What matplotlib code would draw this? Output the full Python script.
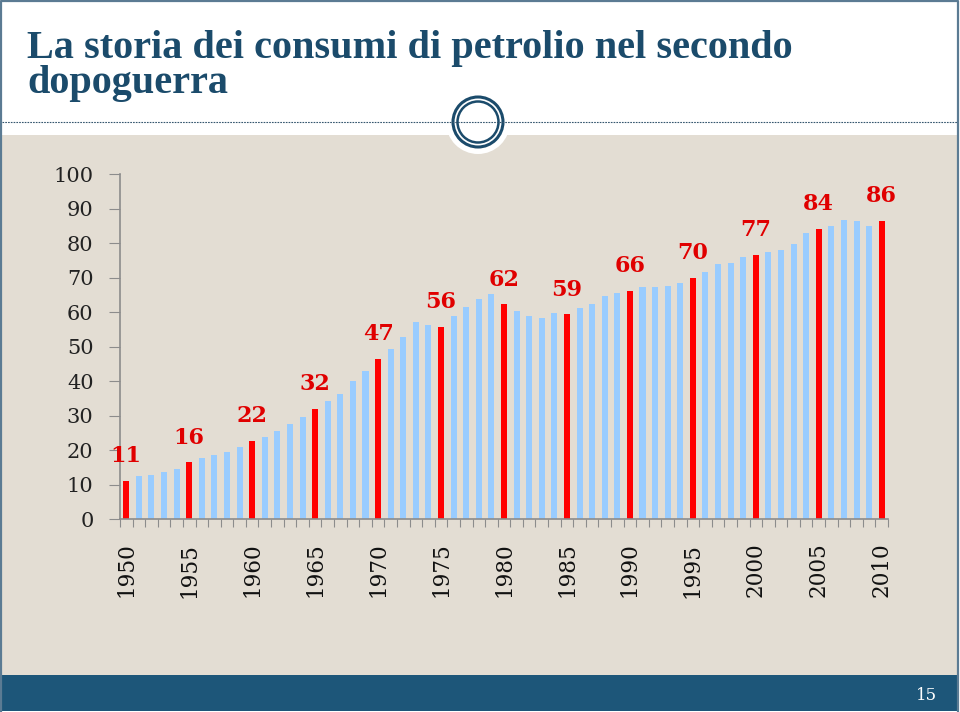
import numpy as np
import matplotlib.pyplot as plt
from matplotlib.patches import Rectangle, Circle

# consumo mondiale di petrolio
years = list(range(1950, 2011))
values = [11.0, 12.4, 12.9, 13.7, 14.6, 16.4, 17.7, 18.7, 19.4, 20.8,
          22.6, 23.9, 25.6, 27.5, 29.6, 31.9, 34.1, 36.3, 39.9, 43.0,
          46.5, 49.2, 52.8, 57.1, 56.3, 55.8, 58.9, 61.6, 63.7, 65.1,
          62.2, 60.2, 58.9, 58.4, 59.8, 59.3, 61.1, 62.4, 64.7, 65.5,
          66.0, 67.3, 67.3, 67.7, 68.5, 70.0, 71.7, 73.9, 74.3, 76.1,
          76.6, 77.5, 78.0, 79.7, 82.9, 84.1, 85.0, 86.7, 86.4, 85.0,
          86.3]
highlight_years = [1950, 1955, 1960, 1965, 1970, 1975, 1980, 1985, 1990,
                   1995, 2000, 2005, 2010]
highlight_labels = ['11', '16', '22', '32', '47', '56', '62', '59', '66',
                    '70', '77', '84', '86']

title_1 = 'La storia dei consumi di petrolio nel secondo'
title_2 = 'dopoguerra'
page_no = '15'

navy = '#1b4b6b'
beige = '#e3ddd3'

fig = plt.figure(figsize=(9.6, 7.12), dpi=100)
fig.patch.set_facecolor('white')

# slide background drawn in pixel coordinates
bg = fig.add_axes([0, 0, 1, 1], zorder=0)
bg.set_xlim(0, 960)
bg.set_ylim(712, 0)
bg.axis('off')
bg.add_patch(Rectangle((2, 135), 955, 540, facecolor=beige, edgecolor='none'))
bg.add_patch(Rectangle((2, 675), 955, 36, facecolor='#1d5679', edgecolor='none'))
bg.plot([2, 957], [122, 122], color='#35566e', lw=0.8, ls=(0, (1.5, 1)))
bg.add_patch(Circle((478, 122), 32, facecolor='white', edgecolor='none'))
bg.add_patch(Circle((478, 122), 25, facecolor='none', edgecolor=navy, lw=2.2))
bg.add_patch(Circle((478, 122), 20.5, facecolor='none', edgecolor=navy, lw=1.8))
# slide border
bg.plot([1, 1, 958, 958], [712, 1, 1, 712], color='#5b7b93', lw=1.6)
bg.text(27, 58, title_1, color=navy, fontsize=29, fontweight='bold',
        family='Liberation Serif', va='baseline', ha='left')
bg.text(27, 93, title_2, color=navy, fontsize=29, fontweight='bold',
        family='Liberation Serif', va='baseline', ha='left')
bg.text(927, 695, page_no, color='white', fontsize=12, family='DejaVu Serif',
        ha='center', va='center')

# chart
ax = fig.add_axes([0.125, 0.271, 0.8, 0.4845], zorder=1)
ax.patch.set_alpha(0)
x = np.arange(len(years))
colors = ['#ff0000' if y in highlight_years else '#99ccff' for y in years]
ax.bar(x, values, width=0.48, color=colors)

for yr, lab in zip(highlight_years, highlight_labels):
    i = years.index(yr)
    ax.annotate(lab, (x[i], values[i]), xytext=(0, 10), textcoords='offset points',
                ha='center', va='bottom', color='#e00000', fontsize=16,
                fontweight='bold', family='DejaVu Serif')

ax.set_xlim(-0.5, len(years) - 0.5)
ax.set_ylim(0, 100)
ax.set_yticks(range(0, 101, 10))
ax.tick_params(axis='y', direction='out', length=8, color='#8c8c8c', pad=11,
               labelsize=15, labelcolor='#222222')
for t in ax.get_yticklabels():
    t.set_family('DejaVu Serif')

# boundary ticks without labels, year labels every 5 bars
ax.set_xticks(np.arange(-0.5, len(years), 1.0))
ax.set_xticklabels([])
ax.tick_params(axis='x', which='major', direction='out', length=6, color='#8c8c8c')
lab_idx = [years.index(y) for y in highlight_years]
ax.set_xticks(lab_idx, minor=True)
ax.set_xticklabels([str(y) for y in highlight_years], minor=True, rotation=90,
                   family='DejaVu Serif', fontsize=15.5, color='#111111')
ax.tick_params(axis='x', which='minor', length=0, pad=17)

for s in ['top', 'right']:
    ax.spines[s].set_visible(False)
for s in ['left', 'bottom']:
    ax.spines[s].set_color('#8c8c8c')
    ax.spines[s].set_linewidth(1.2)

plt.savefig('out.png', dpi=100)
